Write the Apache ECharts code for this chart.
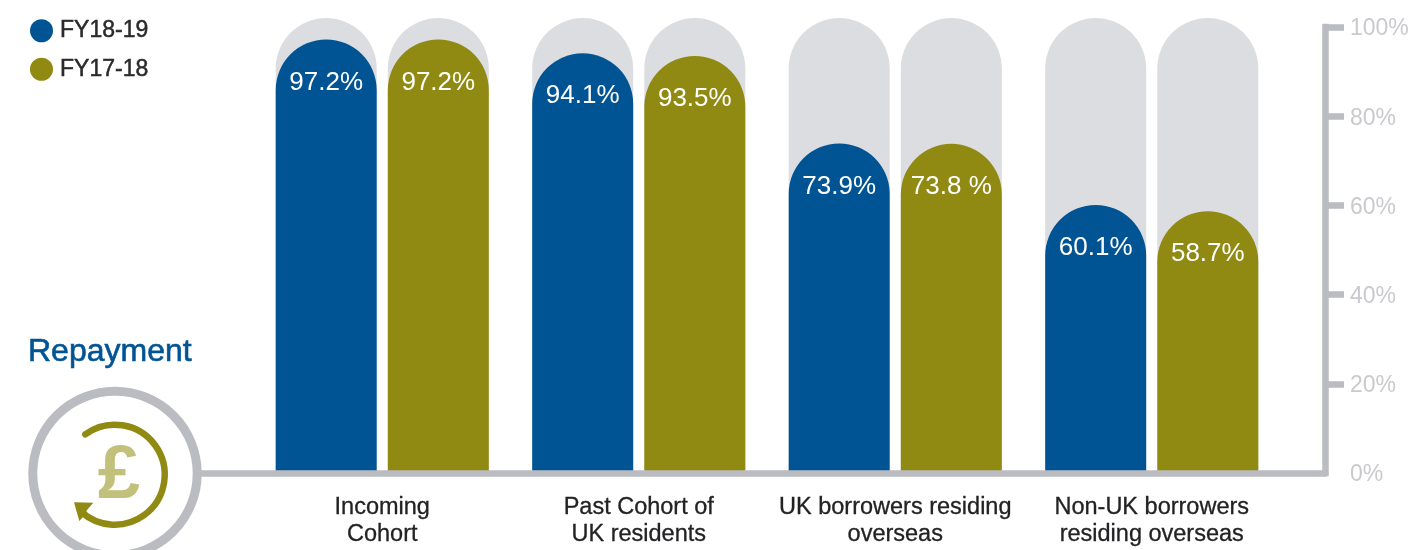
<!DOCTYPE html>
<html>
<head>
<meta charset="utf-8">
<title>Repayment</title>
<style>
  html, body { margin: 0; padding: 0; background: #ffffff; }
  #chart { width: 1414px; height: 550px; overflow: hidden; }
</style>
<script src="https://cdn.jsdelivr.net/npm/echarts@6/dist/echarts.min.js"></script>
</head>
<body>
<div id="chart"></div>
<script>
  // Repayment rates by borrower group
  const categories = ['Incoming\nCohort', 'Past Cohort of\nUK residents', 'UK borrowers residing\noverseas', 'Non-UK borrowers\nresiding overseas'];
  const fy1819 = [97.2, 94.1, 73.9, 60.1];
  const fy1718 = [97.2, 93.5, 73.8, 58.7];
  const fy1819Labels = ['97.2%', '94.1%', '73.9%', '60.1%'];
  const fy1718Labels = ['97.2%', '93.5%', '73.8 %', '58.7%'];
  const trackHeights = [102, 102, 102, 102];
  const percentTicks = [0, 20, 40, 60, 80, 100];

  const BLUE = '#005493';
  const OLIVE = '#918a12';
  const TRACK = '#dcdde0';
  const FRAME = '#bbbcc1';
  const AXIS_TEXT = '#c9cacd';
  const FONT = '"Liberation Sans", Arial, sans-serif';
  const BAR_WIDTH = 101;
  const BAR_RADIUS = [BAR_WIDTH / 2, BAR_WIDTH / 2, 0, 0];

  const plotTop = 27;
  const plotHeight = 446;

  function valueBars(name, values, labels, color) {
    return {
      name, type: 'bar', data: values, xAxisIndex: 0, yAxisIndex: 0,
      barWidth: BAR_WIDTH, barGap: '11%', z: 2,
      itemStyle: { color, borderRadius: BAR_RADIUS },
      label: {
        show: true, position: 'insideTop', distance: 30,
        formatter: p => labels[p.dataIndex],
        color: '#ffffff', fontFamily: FONT, fontSize: 26
      }
    };
  }

  function trackBars() {
    return {
      type: 'bar', data: trackHeights, xAxisIndex: 1, yAxisIndex: 0,
      barWidth: BAR_WIDTH, barGap: '11%', z: 1, clip: false, silent: true,
      itemStyle: { color: TRACK, borderRadius: BAR_RADIUS }
    };
  }

  const option = {
    backgroundColor: '#ffffff',
    animation: false,
    title: {
      text: 'Repayment', left: 23, top: 331,
      textStyle: {
        color: BLUE, fontFamily: FONT, fontSize: 32, fontWeight: 'normal',
        textBorderColor: BLUE, textBorderWidth: 0.6
      }
    },
    legend: {
      data: ['FY18-19', 'FY17-18'], orient: 'vertical', left: 25, top: 14,
      icon: 'circle', itemWidth: 23, itemHeight: 23, itemGap: 15,
      textStyle: {
        color: '#2a2a2c', fontFamily: FONT, fontSize: 23, padding: [0, 0, 0, 2],
        textBorderColor: '#2a2a2c', textBorderWidth: 0.5
      }
    },
    grid: [
      { left: 254, width: 1026, top: plotTop, height: plotHeight },
      { left: 200, width: 1125, top: plotTop, height: plotHeight }
    ],
    xAxis: [
      {
        type: 'category', gridIndex: 0, data: categories, z: 4,
        axisLine: { show: false }, axisTick: { show: false },
        axisLabel: {
          interval: 0, margin: 21, lineHeight: 27,
          color: '#222224', fontFamily: FONT, fontSize: 23.5,
          textBorderColor: '#222224', textBorderWidth: 0.3
        }
      },
      { type: 'category', gridIndex: 0, data: categories, show: false },
      {
        type: 'category', gridIndex: 1, data: [''], z: 3,
        axisLine: { lineStyle: { color: FRAME, width: 6.5 } },
        axisTick: { show: false }, axisLabel: { show: false }
      }
    ],
    yAxis: [
      { type: 'value', gridIndex: 0, min: 0, max: 100, show: false },
      {
        type: 'value', gridIndex: 1, position: 'right', min: 0, max: 100, interval: 20, z: 3,
        splitLine: { show: false },
        axisLine: { show: true, lineStyle: { color: FRAME, width: 6.5, cap: 'square' } },
        axisTick: {
          show: true, length: 19, customValues: percentTicks.slice(1),
          lineStyle: { color: FRAME, width: 6.5 }
        },
        axisLabel: {
          margin: 25, customValues: percentTicks, formatter: '{pct|{value}%}',
          color: AXIS_TEXT, fontFamily: FONT, fontSize: 23,
          rich: { pct: { color: AXIS_TEXT, fontFamily: FONT, fontSize: 23, padding: [4, 0, 0, 0] } }
        }
      }
    ],
    series: [
      trackBars(),
      trackBars(),
      valueBars('FY18-19', fy1819, fy1819Labels, BLUE),
      valueBars('FY17-18', fy1718, fy1718Labels, OLIVE)
    ],
    // Round badge holding the recurring-payment pound symbol
    graphic: [
      {
        type: 'circle', z: 5, silent: true,
        shape: { cx: 115, cy: 473.4, r: 82.2 },
        style: { fill: '#ffffff', stroke: FRAME, lineWidth: 9 }
      },
      {
        type: 'arc', z: 6, silent: true,
        shape: { cx: 114.7, cy: 474.7, r: 50, startAngle: -2.2, endAngle: 2.3, clockwise: true },
        style: { fill: 'none', stroke: OLIVE, lineWidth: 6.5, lineCap: 'round' }
      },
      {
        type: 'polygon', z: 6, silent: true,
        shape: { points: [[74, 502.3], [93.3, 502.7], [87, 510], [85, 515], [79.3, 521]] },
        style: { fill: OLIVE }
      },
      {
        type: 'text', z: 6, silent: true, x: 119, y: 477,
        style: {
          text: '£', fill: '#c2c07b', font: 'bold 76px ' + FONT,
          align: 'center', verticalAlign: 'middle'
        }
      }
    ]
  };

  const chart = echarts.init(document.getElementById('chart'), null, { renderer: 'canvas' });
  chart.setOption(option);
</script>
</body>
</html>
